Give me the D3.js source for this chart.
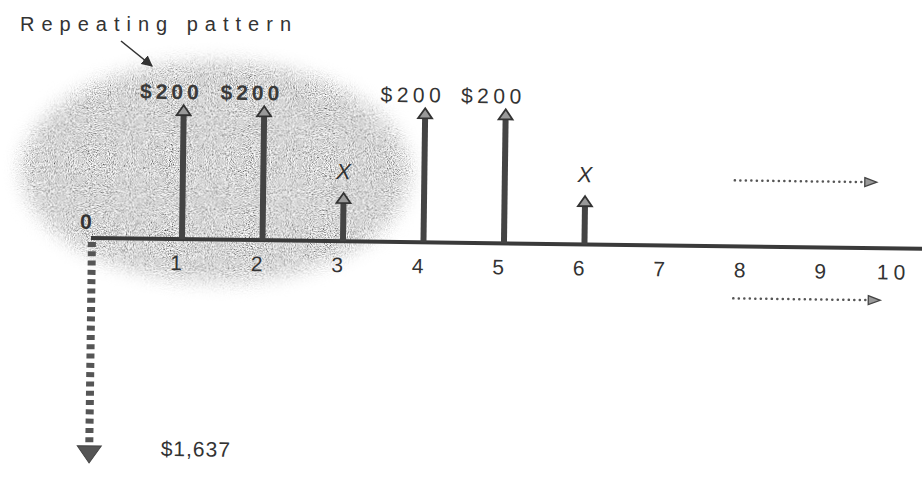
<!DOCTYPE html>
<html>
<head>
<meta charset="utf-8">
<script src="https://cdn.jsdelivr.net/npm/d3@7"></script>
<style>
  body { margin: 0; background: #fff; }
  svg { display: block; font-family: "Liberation Sans", Arial, sans-serif; }
</style>
</head>
<body>
<svg id="chart"></svg>
<script>
// timeline periods and their tick labels
const periods = [0, 1, 2, 3, 4, 5, 6, 7, 8, 9, 10];
const tickLabels = ["0", "1", "2", "3", "4", "5", "6", "7", "8", "9", "10"];

// cash inflows (up arrows); X is unknown, drawn short
const flowPeriods = [1, 2, 3, 4, 5, 6];
const flowValues = [200, 200, 72, 200, 200, 72];
const flowLabels = ["$200", "$200", "X", "$200", "$200", "X"];
const flowBold = [true, true, false, false, false, false];

// initial outflow (down arrow)
const outflowPeriod = 0;
const outflowValue = 1637;
const outflowLabel = "$1,637";

const patternLabel = "Repeating pattern";
const patternPeriods = [0, 3];   // periods covered by the shaded ellipse

const W = 922, H = 487;
const svg = d3.select("#chart").attr("width", W).attr("height", H);

const axisY = 238;
const x = d3.scaleLinear().domain([0, 10]).range([95, 900]);
const yUp = d3.scaleLinear().domain([0, 200]).range([axisY, 104]);
const yDown = d3.scaleLinear().domain([0, outflowValue]).range([axisY + 4, 463]);

// stipple texture for the shaded ellipse
const defs = svg.append("defs");
const grain = defs.append("filter").attr("id", "grain")
    .attr("x", "-20%").attr("y", "-20%").attr("width", "140%").attr("height", "140%");
grain.append("feGaussianBlur").attr("in", "SourceAlpha").attr("stdDeviation", 9).attr("result", "mask");
grain.append("feTurbulence").attr("type", "fractalNoise").attr("baseFrequency", 0.95)
    .attr("numOctaves", 2).attr("seed", 7).attr("result", "noise");
grain.append("feColorMatrix").attr("in", "noise").attr("type", "matrix")
    .attr("values", "0.33 0.33 0.33 0 0  0.33 0.33 0.33 0 0  0.33 0.33 0.33 0 0  0 0 0 0 1")
    .attr("result", "gray");
const ct = grain.append("feComponentTransfer").attr("in", "gray").attr("result", "contrast");
["feFuncR", "feFuncG", "feFuncB"].forEach(f =>
    ct.append(f).attr("type", "linear").attr("slope", 3.4).attr("intercept", -1.02));
grain.append("feComposite").attr("in", "contrast").attr("in2", "mask").attr("operator", "in");

// whole drawing leans slightly like the scanned page
const g = svg.append("g").attr("transform", `rotate(0.75, ${x(0)}, ${axisY})`);

// shaded ellipse over the repeating periods
const ex0 = x(patternPeriods[0]) - 74, ex1 = x(patternPeriods[1]) + 72;
g.append("ellipse")
    .attr("cx", (ex0 + ex1) / 2)
    .attr("cy", axisY - 68)
    .attr("rx", (ex1 - ex0) / 2)
    .attr("ry", 110)
    .attr("fill", "#bbb")
    .attr("filter", "url(#grain)");

// time line
g.append("line")
    .attr("x1", x(0) - 4).attr("x2", W + 10)
    .attr("y1", axisY).attr("y2", axisY)
    .attr("stroke", "#3a3a3a").attr("stroke-width", 4);

// tick labels
g.selectAll("text.tick")
    .data(periods.slice(1))
    .enter().append("text")
    .attr("class", "tick")
    .attr("x", d => d >= 10 ? x(d) - 6 : x(d) + 1)
    .attr("y", axisY + 31)
    .attr("text-anchor", "middle")
    .attr("font-size", 21)
    .attr("letter-spacing", d => d >= 10 ? 5 : 0)
    .attr("fill", "#333")
    .text((d, i) => tickLabels[i + 1]);

g.append("text")
    .attr("x", x(0) - 15).attr("y", axisY - 9)
    .attr("font-size", 21).attr("font-weight", "bold").attr("fill", "#333")
    .text(tickLabels[0]);

// up arrows
const flows = flowPeriods.map((p, i) => ({ p, v: flowValues[i], label: flowLabels[i], bold: flowBold[i] }));
const arrow = g.selectAll("g.flow").data(flows).enter().append("g").attr("class", "flow");
arrow.append("rect")
    .attr("x", d => x(d.p) + 3.5)
    .attr("y", d => yUp(d.v) + 9)
    .attr("width", 6)
    .attr("height", d => axisY - yUp(d.v) - 9)
    .attr("fill", "#444");
arrow.append("path")
    .attr("d", d => {
        const cx = x(d.p) + 6.5, ty = yUp(d.v);
        return `M${cx},${ty} L${cx + 7},${ty + 10} L${cx - 7},${ty + 10} Z`;
    })
    .attr("fill", "#999").attr("stroke", "#333").attr("stroke-width", 1.8);
arrow.append("text")
    .attr("x", d => d.label === "X" ? x(d.p) + 6 : x(d.p) - 6)
    .attr("y", d => d.label === "X" ? yUp(d.v) - 14 : yUp(d.v) - 6)
    .attr("text-anchor", "middle")
    .attr("font-size", d => d.label === "X" ? 22 : 21)
    .attr("font-style", d => d.label === "X" ? "italic" : "normal")
    .attr("font-weight", d => d.bold ? "bold" : "normal")
    .attr("letter-spacing", d => d.label === "X" ? 0 : (d.bold ? 4 : 4.5))
    .attr("fill", d => d.bold ? "#3a3a3a" : "#333")
    .text(d => d.label);

// down arrow for the outflow
const ox = x(outflowPeriod) - 3;
g.append("line")
    .attr("x1", ox).attr("x2", ox)
    .attr("y1", yDown(0)).attr("y2", yDown(outflowValue) - 17)
    .attr("stroke", "#555").attr("stroke-width", 8)
    .attr("stroke-dasharray", "5,4.3");
g.append("path")
    .attr("d", `M${ox - 12},${yDown(outflowValue) - 17} L${ox + 12},${yDown(outflowValue) - 17} L${ox},${yDown(outflowValue)} Z`)
    .attr("fill", "#555").attr("stroke", "#444").attr("stroke-width", 1);
g.append("text")
    .attr("x", x(1) - 12).attr("y", yDown(outflowValue) - 8)
    .attr("font-size", 21).attr("letter-spacing", 1).attr("fill", "#333")
    .text(outflowLabel);

// dotted continuation arrows
[axisY - 66, axisY + 52].forEach((yy, i) => {
    const xa = x(8) - 5, xb = x(10) - 24 + i * 5;
    g.append("line")
        .attr("x1", xa).attr("x2", xb - 10).attr("y1", yy).attr("y2", yy)
        .attr("stroke", "#555").attr("stroke-width", 2.5)
        .attr("stroke-linecap", "round").attr("stroke-dasharray", "0.1,5.4");
    g.append("path")
        .attr("d", `M${xb - 12},${yy - 4.5} L${xb},${yy} L${xb - 12},${yy + 4.5} Z`)
        .attr("fill", "#999").attr("stroke", "#444").attr("stroke-width", 1.3);
});

// "Repeating pattern" callout
svg.append("text")
    .attr("x", 20).attr("y", 31)
    .attr("font-size", 20).attr("letter-spacing", 7).attr("fill", "#333")
    .text(patternLabel);
defs.append("marker").attr("id", "tip")
    .attr("viewBox", "0 0 10 10").attr("refX", 9).attr("refY", 5)
    .attr("markerWidth", 7).attr("markerHeight", 7).attr("orient", "auto")
    .append("path").attr("d", "M0,0 L10,5 L0,10 Z").attr("fill", "#333");
svg.append("line")
    .attr("x1", 121).attr("y1", 41).attr("x2", 152).attr("y2", 66)
    .attr("stroke", "#333").attr("stroke-width", 1.6)
    .attr("marker-end", "url(#tip)");
</script>
</body>
</html>
